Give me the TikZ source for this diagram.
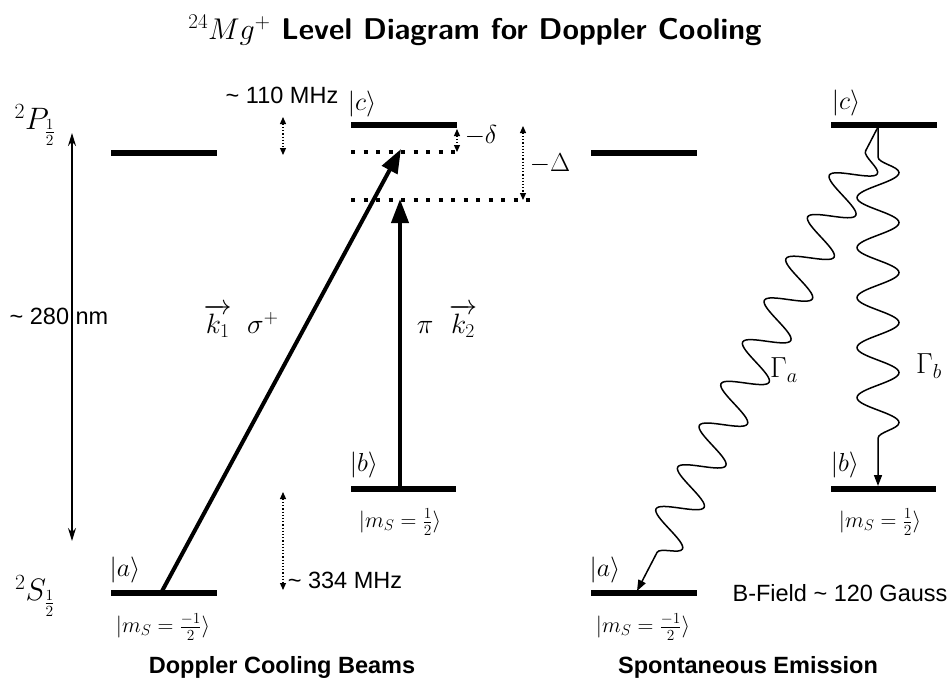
\RequirePackage{fix-cm}
\documentclass[tikz,border=0pt]{standalone}
\usepackage{fontspec}
\newfontfamily\arial{Liberation Sans}
\usetikzlibrary{decorations.pathmorphing,arrows.meta}
\begin{document}
\begin{tikzpicture}[x=1pt,y=-1pt,
  lvl/.style={line width=6pt},
  dotlvl/.style={line width=4pt, dash pattern=on 4pt off 8.5pt},
  beam/.style={line width=4pt, -{Triangle[length=24pt,width=17pt]}},
  spanarrow/.style={line width=1.5pt, {Stealth[length=13pt,width=8pt]}-{Stealth[length=13pt,width=8pt]}},
  detarrow/.style={line width=1.2pt, dotted, {Triangle[length=7pt,width=6pt]}-{Triangle[length=7pt,width=6pt]}},
  wavy/.style={line width=1.5pt, -{Triangle[length=11pt,width=8pt]},
    decorate, decoration={snake, amplitude=21pt, segment length=47pt, pre length=27pt, post length=27pt}},
  wavyb/.style={wavy, decoration={snake, amplitude=21pt, segment length=50pt, pre length=30pt, post length=29pt}},
  mathlbl/.style={font=\fontsize{26}{30}\selectfont, inner sep=0pt},
  termlbl/.style={font=\fontsize{31}{36}\selectfont, inner sep=0pt},
  mslbl/.style={font=\fontsize{22}{26}\selectfont, inner sep=0pt},
  sanslbl/.style={font=\arial\fontsize{23.5}{28}\selectfont, inner sep=0pt},
  head/.style={font=\arial\bfseries\fontsize{23.5}{28}\selectfont, inner sep=0pt},
  titlestyle/.style={font=\sffamily\bfseries\fontsize{30}{34}\selectfont, inner sep=0pt}]
\useasboundingbox (0,0) rectangle (952,683);

% title
\node[titlestyle] (title) at (475,30) {$^{24}Mg^{+}$ Level Diagram for Doppler Cooling};

% ---------------- left diagram ----------------
\coordinate (PL1) at (111,153); \coordinate (PL2) at (217,153);
\coordinate (cL1) at (351,125); \coordinate (cL2) at (457,125);
\coordinate (d1a) at (351,152); \coordinate (d1b) at (457,152);
\coordinate (d2a) at (351,200); \coordinate (d2b) at (530,200);
\coordinate (bL1) at (351,489); \coordinate (bL2) at (456,489);
\coordinate (aL1) at (111,593); \coordinate (aL2) at (217,593);

\draw[lvl] (PL1) -- (PL2);
\draw[lvl] (cL1) -- (cL2);
\draw[dotlvl] (d1a) -- (d1b);
\draw[dotlvl] (d2a) -- (d2b);
\draw[lvl] (bL1) -- (bL2);
\draw[lvl] (aL1) -- (aL2);

\node[termlbl] (P) at (35,125) {$^2P_{\frac{1}{2}}$};
\node[termlbl] (S) at (35,596) {$^2S_{\frac{1}{2}}$};

\coordinate (spanT) at (72,133); \coordinate (spanB) at (72,541);
\draw[spanarrow] (spanT) -- (spanB);
\node[sanslbl] (nm) at (59,316) {\textasciitilde{} 280 nm};

\node[sanslbl] (mhz110) at (282,95) {\textasciitilde{} 110 MHz};
\coordinate (m110T) at (283,117); \coordinate (m110B) at (283,155);
\draw[detarrow] (m110T) -- (m110B);

\node[mathlbl] (cLl) at (362,104) {$|c\rangle$};
\coordinate (delT) at (457,129); \coordinate (delB) at (457,152);
\draw[detarrow] (delT) -- (delB);
\node[mathlbl] (delta) at (481,136) {$-\delta$};
\coordinate (DelT) at (523,126); \coordinate (DelB) at (523,200);
\draw[detarrow] (DelT) -- (DelB);
\node[mathlbl] (Delta) at (550,164) {$-\Delta$};

\node[mathlbl] (bLl) at (364,465) {$|b\rangle$};
\node[mslbl] (msbL) at (400,522) {$|m_S=\frac{1}{2}\rangle$};
\node[mathlbl] (aLl) at (125,570) {$|a\rangle$};
\node[mslbl] (msaL) at (163,627) {$|m_S=\frac{-1}{2}\rangle$};

\coordinate (m334T) at (283,492); \coordinate (m334B) at (283,590);
\draw[detarrow] (m334T) -- (m334B);
\node[sanslbl] (mhz334) at (345,580) {\textasciitilde{} 334 MHz};

\coordinate (sigS) at (161,593); \coordinate (sigE) at (401,149);
\draw[beam] (sigS) -- (sigE);
\coordinate (piS) at (400,489); \coordinate (piE) at (400,199);
\draw[beam] (piS) -- (piE);
\node[mathlbl, font=\fontsize{28}{32}\selectfont] (k1) at (241,321) {$\overrightarrow{k_1}\;\;\sigma^{+}$};
\node[mathlbl, font=\fontsize{28}{32}\selectfont] (k2) at (447,321) {$\pi\;\;\overrightarrow{k_2}$};

\node[head] (h1) at (282,667) {Doppler Cooling Beams};

% ---------------- right diagram ----------------
\coordinate (PR1) at (591,153); \coordinate (PR2) at (697,153);
\coordinate (cR1) at (831,125); \coordinate (cR2) at (937,125);
\coordinate (bR1) at (831,489); \coordinate (bR2) at (936,489);
\coordinate (aR1) at (591,593); \coordinate (aR2) at (697,593);
\draw[lvl] (PR1) -- (PR2);
\draw[lvl] (cR1) -- (cR2);
\draw[lvl] (bR1) -- (bR2);
\draw[lvl] (aR1) -- (aR2);

\node[mathlbl] (cRl) at (846,103) {$|c\rangle$};
\node[mathlbl] (bRl) at (845,465) {$|b\rangle$};
\node[mslbl] (msbR) at (880,522) {$|m_S=\frac{1}{2}\rangle$};
\node[mathlbl] (aRl) at (605,570) {$|a\rangle$};
\node[mslbl] (msaR) at (643,627) {$|m_S=\frac{-1}{2}\rangle$};
\node[sanslbl] (bfield) at (840,593) {B-Field \textasciitilde{} 120 Gauss};

\coordinate (emit) at (878,127);
\coordinate (aTip) at (637,591);
\coordinate (bTip) at (878,486);
\draw[wavy] (emit) -- (aTip);
\draw[wavyb] (emit) -- (bTip);
\node[mathlbl, font=\fontsize{29}{33}\selectfont] (Ga) at (784,370) {$\Gamma_a$};
\node[mathlbl, font=\fontsize{29}{33}\selectfont] (Gb) at (929,366) {$\Gamma_b$};

\node[head] (h2) at (748,667) {Spontaneous Emission};
\end{tikzpicture}
\end{document}
